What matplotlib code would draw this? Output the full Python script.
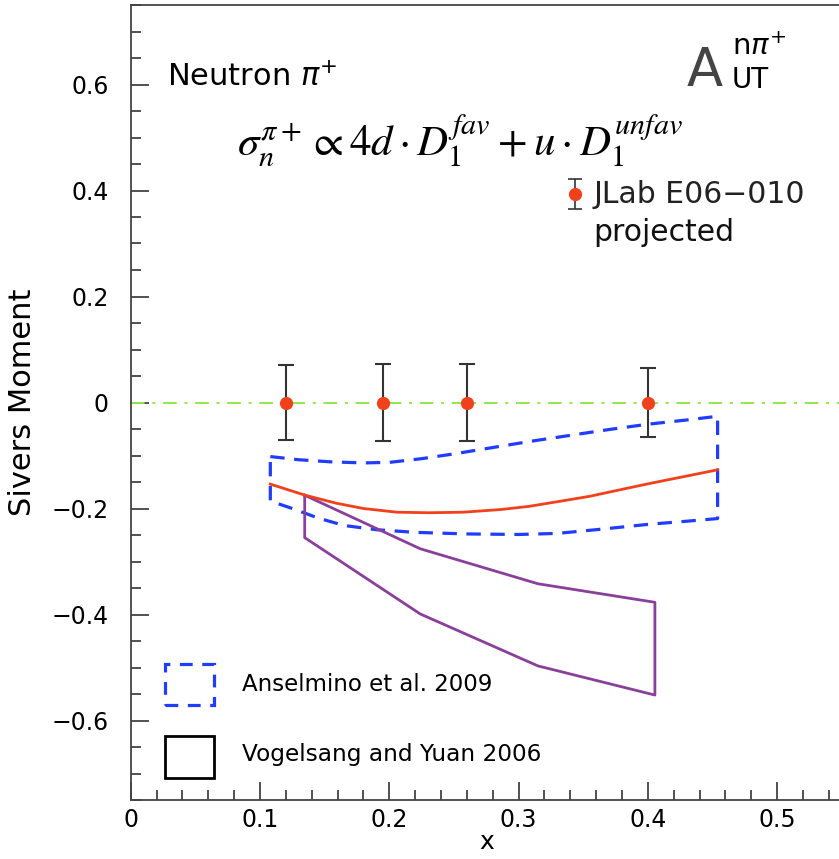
import matplotlib
matplotlib.use("Agg")
import matplotlib.pyplot as plt
from matplotlib.ticker import MultipleLocator, FixedLocator
from matplotlib.patches import Rectangle

# ---- data ----
pts_x = [0.12, 0.195, 0.26, 0.40]
pts_y = [0.0, 0.0, 0.0, 0.0]
pts_err = [0.070, 0.072, 0.072, 0.066]

# Anselmino et al. 2009 band (upper and lower edges)
ans_up_x = [0.108, 0.130, 0.155, 0.180, 0.200, 0.225, 0.250, 0.280, 0.310, 0.340, 0.370, 0.400, 0.430, 0.454]
ans_up_y = [-0.102, -0.108, -0.112, -0.114, -0.113, -0.106, -0.097, -0.085, -0.073, -0.062, -0.051, -0.041, -0.033, -0.026]
ans_lo_x = [0.108, 0.125, 0.145, 0.165, 0.190, 0.220, 0.260, 0.300, 0.330, 0.360, 0.400, 0.430, 0.454]
ans_lo_y = [-0.186, -0.200, -0.218, -0.232, -0.240, -0.245, -0.248, -0.249, -0.247, -0.240, -0.230, -0.224, -0.219]

# central curve
cen_x = [0.108, 0.135, 0.159, 0.180, 0.206, 0.231, 0.257, 0.286, 0.308, 0.333, 0.355, 0.399, 0.454]
cen_y = [-0.154, -0.175, -0.190, -0.200, -0.207, -0.208, -0.207, -0.202, -0.196, -0.186, -0.177, -0.154, -0.127]

# Vogelsang and Yuan 2006 band
vy_up_x = [0.1346, 0.224, 0.315, 0.4055]
vy_up_y = [-0.175, -0.276, -0.342, -0.377]
vy_lo_x = [0.1346, 0.224, 0.315, 0.4055]
vy_lo_y = [-0.255, -0.399, -0.497, -0.552]

xticks = [0, 0.1, 0.2, 0.3, 0.4, 0.5]
yticks = [-0.6, -0.4, -0.2, 0, 0.2, 0.4, 0.6]

# ---- figure ----
fig = plt.figure(figsize=(8.39, 8.59), dpi=100)
ax = fig.add_axes([130.7/839, (859-800)/859, 711/839, 795/859])
ax.set_xlim(0, 0.55)
ax.set_ylim(-0.75, 0.75)

blue = "#1f3cff"
purple = "#8a3f9a"
red = "#f0401c"

# zero line
ax.axhline(0, color="#8fe84a", lw=1.4, dashes=(7, 4, 1.5, 4))

# Anselmino band
band_x = ans_up_x + ans_lo_x[::-1] + [ans_up_x[0]]
band_y = ans_up_y + ans_lo_y[::-1] + [ans_up_y[0]]
ax.plot(band_x, band_y, color=blue, lw=2.3, dashes=(4.5, 3))

# Vogelsang band
vx = vy_up_x + vy_lo_x[::-1] + [vy_up_x[0]]
vyv = vy_up_y + vy_lo_y[::-1] + [vy_up_y[0]]
ax.plot(vx, vyv, color=purple, lw=2.0)

# central curve
ax.plot(cen_x, cen_y, color=red, lw=2.0)

# data points
ax.errorbar(pts_x, pts_y, yerr=pts_err, fmt="o", color=red, ms=8.5,
            ecolor="#333333", elinewidth=1.5, capsize=6, capthick=1.5, zorder=5)

# top legend entry
ax.errorbar([0.3437], [0.394], yerr=[0.028], fmt="o", color=red, ms=8.5,
            ecolor="#333333", elinewidth=1.2, capsize=5, capthick=1.2, zorder=5)
ax.text(0.3577, 0.392, "JLab E06\u2212010", fontsize=21.5, va="center", ha="left",
        color="#222222")
ax.text(0.3577, 0.320, "projected", fontsize=21.5, va="center", ha="left",
        color="#111111")

# bottom legend
ax.add_patch(Rectangle((0.0265, -0.570), 0.038, 0.076, fill=False, ec=blue, lw=2.3,
                       ls=(0, (4, 3))))
ax.add_patch(Rectangle((0.0265, -0.708), 0.038, 0.078, fill=False, ec="black", lw=2.0))
ax.text(0.086, -0.532, "Anselmino et al. 2009", fontsize=16.5, va="center", ha="left")
ax.text(0.086, -0.665, "Vogelsang and Yuan 2006", fontsize=16.7, va="center", ha="left")

# labels in plot
ax.text(0.028, 0.598, "Neutron $\\pi^{+}$", fontsize=22, va="baseline", ha="left")
ax.text(0.430, 0.598, "A", fontsize=38, va="baseline", ha="left", color="#444444")
ax.text(0.465, 0.655, "n$\\pi^{+}$", fontsize=21, va="baseline", ha="left")
ax.text(0.465, 0.594, "UT", fontsize=20, va="baseline", ha="left")
ax.text(0.0823, 0.466,
        r"$\sigma_n^{\pi+} \propto 4d \cdot D_1^{fav} + u \cdot D_1^{unfav}$",
        fontsize=31, va="baseline", ha="left", math_fontfamily="stix")

# axes styling
ax.spines["right"].set_visible(False)
for s in ["left", "bottom", "top"]:
    ax.spines[s].set_color("#444444")
    ax.spines[s].set_linewidth(1.3)
ax.xaxis.set_major_locator(FixedLocator(xticks))
ax.yaxis.set_major_locator(FixedLocator(yticks))
ax.xaxis.set_minor_locator(MultipleLocator(0.02))
ax.yaxis.set_minor_locator(MultipleLocator(0.05))
ax.set_xticklabels(["0", "0.1", "0.2", "0.3", "0.4", "0.5"])
ax.set_yticklabels(["\u22120.6", "\u22120.4", "\u22120.2", "0", "0.2", "0.4", "0.6"])
ax.tick_params(which="both", direction="in", top=False, right=False, labelsize=17,
               color="#333333", width=1.2)
ax.tick_params(which="major", length=13, pad=6)
ax.tick_params(which="minor", length=7)
ax.tick_params(axis="y", which="major", pad=16)
ax.set_xlabel("x", fontsize=18, labelpad=-2)
ax.set_ylabel("Sivers Moment", fontsize=22, labelpad=10)

fig.savefig("out.png", dpi=100)
